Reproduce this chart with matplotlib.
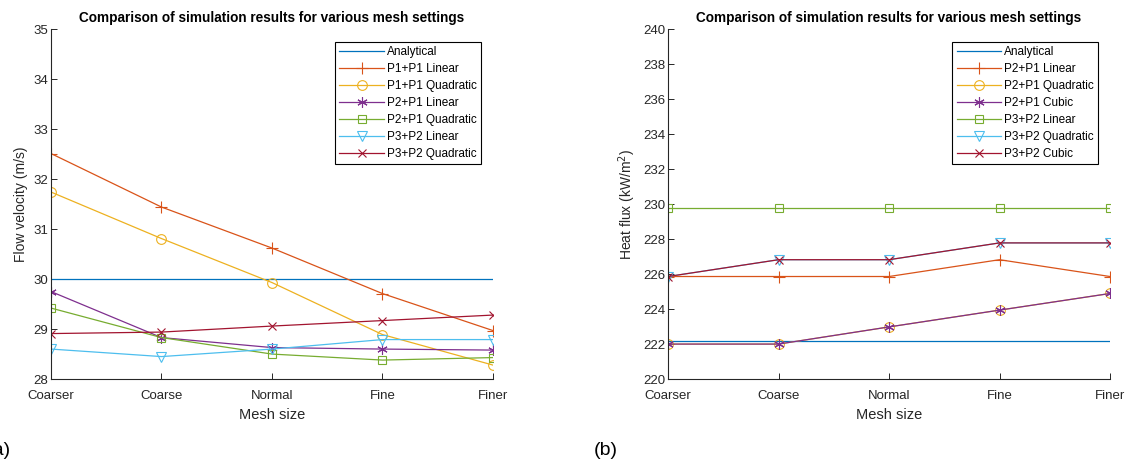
import matplotlib
matplotlib.use("Agg")
import matplotlib.pyplot as plt

plt.rcParams['font.family'] = ['Liberation Sans', 'DejaVu Sans']

mesh = ['Coarser', 'Coarse', 'Normal', 'Fine', 'Finer']

# (a) flow velocity, m/s
vel_analytical = [30.0, 30.0, 30.0, 30.0, 30.0]
vel_p1p1_lin = [32.51, 31.44, 30.62, 29.71, 28.97]
vel_p1p1_quad = [31.74, 30.81, 29.93, 28.89, 28.28]
vel_p2p1_lin = [29.75, 28.83, 28.63, 28.60, 28.58]
vel_p2p1_quad = [29.42, 28.83, 28.50, 28.38, 28.43]
vel_p3p2_lin = [28.60, 28.45, 28.60, 28.79, 28.79]
vel_p3p2_quad = [28.91, 28.94, 29.06, 29.17, 29.28]

# (b) heat flux, kW/m2
q_analytical = [222.2, 222.2, 222.2, 222.2, 222.2]
q_p2p1_lin = [225.86, 225.86, 225.86, 226.82, 225.86]
q_p2p1_quad = [222.0, 222.0, 222.98, 223.94, 224.89]
q_p2p1_cub = [222.0, 222.0, 222.98, 223.94, 224.89]
q_p3p2_lin = [229.75, 229.75, 229.75, 229.75, 229.75]
q_p3p2_quad = [225.86, 226.82, 226.82, 227.78, 227.78]
q_p3p2_cub = [225.86, 226.82, 226.82, 227.78, 227.78]

colors = ['#0072BD', '#D95319', '#EDB120', '#7E2F8E', '#77AC30', '#4DBEEE', '#A2142F']
# matlab style markers: '*' is an asterisk, not a star
markers = [None, '+', 'o', (6, 2, 0), 's', 'v', 'x']
msizes = [0, 8, 7, 7.5, 5.5, 7, 5.5]
grey = '#262626'

fig = plt.figure(figsize=(11.26, 4.68), dpi=100)
ax1 = fig.add_axes([0.0453, 0.190, 0.3925, 0.748])
ax2 = fig.add_axes([0.5933, 0.190, 0.3925, 0.748])


def draw(ax, series, labels, ylim, yticks, ylabel):
    x = list(range(len(mesh)))
    for vals, lab, c, m, ms in zip(series, labels, colors, markers, msizes):
        ax.plot(x, vals, color=c, marker=m, markersize=ms, markerfacecolor='none',
                markeredgewidth=0.8, lw=0.9, label=lab)
    ax.set_xlim(0, len(mesh) - 1)
    ax.set_ylim(*ylim)
    ax.set_yticks(yticks)
    ax.set_xticks(x)
    ax.set_xticklabels(mesh)
    ax.tick_params(direction='in', length=4, width=0.7, colors=grey, labelsize=9.5, pad=2)
    ax.tick_params(axis='x', pad=8)
    for s in ['top', 'right']:
        ax.spines[s].set_visible(False)
    for s in ['left', 'bottom']:
        ax.spines[s].set_color(grey)
        ax.spines[s].set_linewidth(0.8)
    ax.set_xlabel('Mesh size', fontsize=10.5, color=grey, labelpad=4)
    ax.set_ylabel(ylabel, fontsize=10, color=grey, labelpad=4)
    ax.set_title('Comparison of simulation results for various mesh settings',
                 fontsize=9.8, fontweight='bold', pad=5)
    leg = ax.legend(loc='upper right', bbox_to_anchor=(0.972, 0.963), fontsize=8.5,
                    fancybox=False, edgecolor='black', framealpha=1,
                    handlelength=3.8, borderpad=0.35, labelspacing=0.42,
                    handletextpad=0.2, borderaxespad=0)
    leg.get_frame().set_linewidth(0.8)


draw(ax1,
     [vel_analytical, vel_p1p1_lin, vel_p1p1_quad, vel_p2p1_lin, vel_p2p1_quad,
      vel_p3p2_lin, vel_p3p2_quad],
     ['Analytical', 'P1+P1 Linear', 'P1+P1 Quadratic', 'P2+P1 Linear',
      'P2+P1 Quadratic', 'P3+P2 Linear', 'P3+P2 Quadratic'],
     (28, 35), range(28, 36), 'Flow velocity (m/s)')

draw(ax2,
     [q_analytical, q_p2p1_lin, q_p2p1_quad, q_p2p1_cub, q_p3p2_lin,
      q_p3p2_quad, q_p3p2_cub],
     ['Analytical', 'P2+P1 Linear', 'P2+P1 Quadratic', 'P2+P1 Cubic',
      'P3+P2 Linear', 'P3+P2 Quadratic', 'P3+P2 Cubic'],
     (220, 240), range(220, 241, 2), 'Heat flux (kW/m$^2$)')

fig.text(-0.012, 0.028, '(a)', fontsize=14, color='black')
fig.text(0.527, 0.028, '(b)', fontsize=14, color='black')

fig.savefig('out.png', dpi=100)
